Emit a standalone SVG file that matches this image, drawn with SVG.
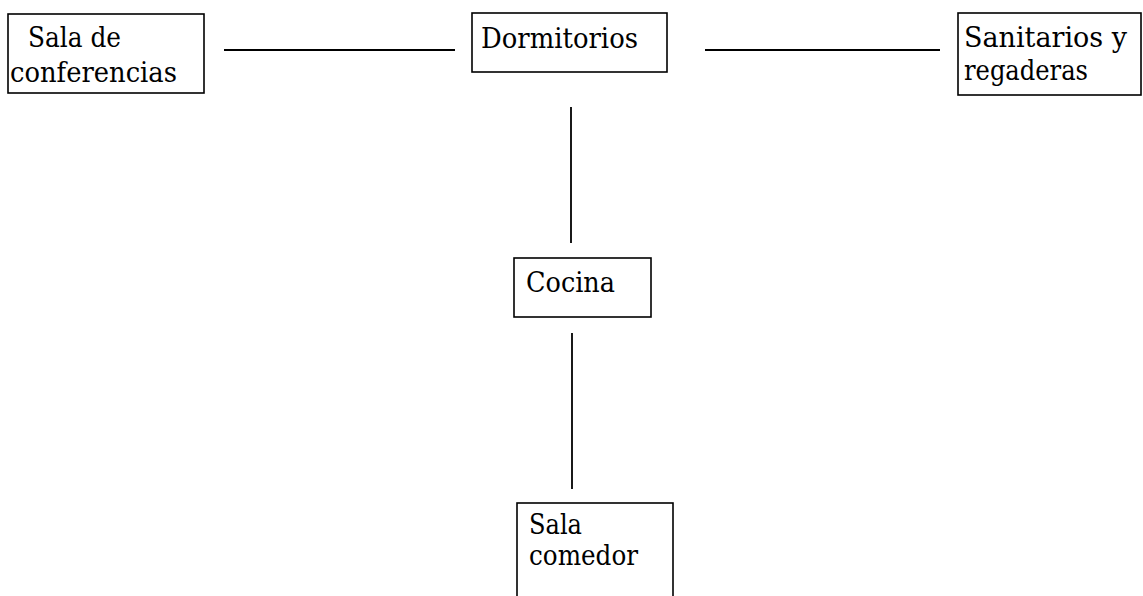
<svg xmlns="http://www.w3.org/2000/svg" width="1143" height="596" viewBox="0 0 1143 596">
<style>
.box{fill:none;stroke:#000;stroke-width:1.6}
.ln{stroke:#000;stroke-width:1.8;fill:none}
.t{font-family:'DejaVu Serif','Liberation Serif',serif;font-size:27px;fill:#000}
</style>
<rect width="1143" height="596" fill="#fff"/>
<g id="connectors">
<line class="ln" x1="224" y1="50" x2="455" y2="50"/>
<line class="ln" x1="705" y1="50" x2="940" y2="50"/>
<line class="ln" x1="571" y1="107" x2="571" y2="243"/>
<line class="ln" x1="572" y1="333" x2="572" y2="489"/>
</g>
<g id="sala-conferencias">
<rect class="box" x="8" y="14" width="196" height="79"/>
<text class="t" x="28" y="47" textLength="93" lengthAdjust="spacingAndGlyphs">Sala de</text>
<text class="t" x="10" y="82" textLength="167" lengthAdjust="spacingAndGlyphs">conferencias</text>
</g>
<g id="dormitorios">
<rect class="box" x="472" y="13" width="195" height="59"/>
<text class="t" x="481" y="48" textLength="157" lengthAdjust="spacingAndGlyphs">Dormitorios</text>
</g>
<g id="sanitarios">
<rect class="box" x="958" y="13" width="183" height="82"/>
<text class="t" x="964" y="47" textLength="163" lengthAdjust="spacingAndGlyphs">Sanitarios y</text>
<text class="t" x="964" y="80" textLength="124" lengthAdjust="spacingAndGlyphs">regaderas</text>
</g>
<g id="cocina">
<rect class="box" x="514" y="258" width="137" height="59"/>
<text class="t" x="526" y="292" textLength="89" lengthAdjust="spacingAndGlyphs">Cocina</text>
</g>
<g id="sala-comedor">
<rect class="box" x="517" y="503" width="156" height="100"/>
<text class="t" x="529" y="534" textLength="53" lengthAdjust="spacingAndGlyphs">Sala</text>
<text class="t" x="529" y="565" textLength="109" lengthAdjust="spacingAndGlyphs">comedor</text>
</g>
</svg>
